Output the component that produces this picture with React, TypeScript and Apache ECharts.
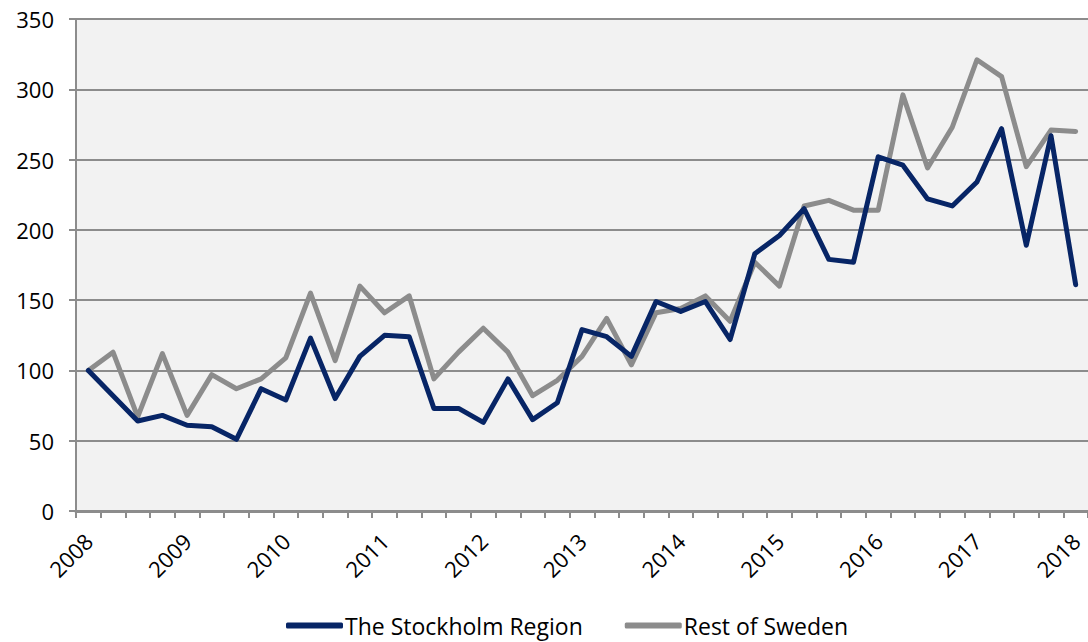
import React, { useEffect, useRef } from "react";
import * as echarts from "echarts";

const quarters = [
  "2008 Q1", "2008 Q2", "2008 Q3", "2008 Q4",
  "2009 Q1", "2009 Q2", "2009 Q3", "2009 Q4",
  "2010 Q1", "2010 Q2", "2010 Q3", "2010 Q4",
  "2011 Q1", "2011 Q2", "2011 Q3", "2011 Q4",
  "2012 Q1", "2012 Q2", "2012 Q3", "2012 Q4",
  "2013 Q1", "2013 Q2", "2013 Q3", "2013 Q4",
  "2014 Q1", "2014 Q2", "2014 Q3", "2014 Q4",
  "2015 Q1", "2015 Q2", "2015 Q3", "2015 Q4",
  "2016 Q1", "2016 Q2", "2016 Q3", "2016 Q4",
  "2017 Q1", "2017 Q2", "2017 Q3", "2017 Q4",
  "2018 Q1",
];

const stockholm = [
  100, 82, 64, 68, 61, 60, 51, 87, 79, 123, 80, 110, 125, 124, 73, 73, 63, 94, 65, 77,
  129, 124, 110, 149, 142, 149, 122, 183, 196, 215, 179, 177, 252, 246, 222, 217, 234,
  272, 189, 267, 161,
];

const restOfSweden = [
  100, 113, 67, 112, 68, 97, 87, 94, 109, 155, 107, 160, 141, 153, 94, 113, 130, 113, 82,
  93, 110, 137, 104, 141, 144, 153, 135, 177, 160, 217, 221, 214, 214, 296, 244, 273, 321,
  309, 245, 271, 270,
];

const yTicks = { min: 0, max: 350, interval: 50 };

const FONT = '"Open Sans", "Noto Sans", sans-serif';

export default function App() {
  const ref = useRef<HTMLDivElement>(null);
  useEffect(() => {
    if (!ref.current) return;
    const chart = echarts.init(ref.current, null, { renderer: "svg" });
    chart.setOption({
      animation: false,
      backgroundColor: "#ffffff",
      grid: { left: 76, right: 0, top: 19, bottom: 131, containLabel: false, show: true, backgroundColor: "#f2f2f2", borderWidth: 0 },
      legend: {
        bottom: 0,
        left: 281,
        itemWidth: 57,
        itemHeight: 6,
        itemGap: 42,
        icon: "roundRect",
        textStyle: { fontFamily: FONT, fontSize: 23, color: "#000", padding: [0, 0, 0, -3] },
        data: ["The Stockholm Region", "Rest of Sweden"],
      },
      xAxis: {
        type: "category",
        data: quarters,
        boundaryGap: true,
        axisLine: { lineStyle: { color: "#8c8c8c", width: 3 } },
        axisTick: { show: true, interval: 0, length: 7, lineStyle: { color: "#8c8c8c", width: 2 } },
        axisLabel: {
          interval: 3,
          rotate: 45,
          margin: 26,
          fontFamily: FONT,
          fontSize: 22,
          color: "#000",
          formatter: (v: string) => v.slice(0, 4),
        },
        splitLine: { show: false },
      },
      yAxis: {
        type: "value",
        min: yTicks.min,
        max: yTicks.max,
        interval: yTicks.interval,
        axisLine: { show: true, lineStyle: { color: "#8c8c8c", width: 2 } },
        axisTick: { show: true, length: 7, lineStyle: { color: "#8c8c8c", width: 2 } },
        axisLabel: { margin: 22, fontFamily: FONT, fontSize: 22, color: "#000" },
        splitLine: { show: true, lineStyle: { color: "#8c8c8c", width: 2 } },
      },
      series: [
        {
          name: "The Stockholm Region",
          type: "line",
          data: stockholm,
          symbol: "none",
          color: "#072566",
          lineStyle: { width: 5, color: "#072566", join: "round", cap: "round" },
          z: 3,
        },
        {
          name: "Rest of Sweden",
          type: "line",
          data: restOfSweden,
          symbol: "none",
          color: "#8c8c8c",
          lineStyle: { width: 5, color: "#8c8c8c", join: "round", cap: "round" },
          z: 2,
        },
      ],
    });
    return () => chart.dispose();
  }, []);
  return (
    <div
      ref={ref}
      style={{ position: "fixed", left: 0, top: 0, width: 1088, height: 642 }}
    />
  );
}
